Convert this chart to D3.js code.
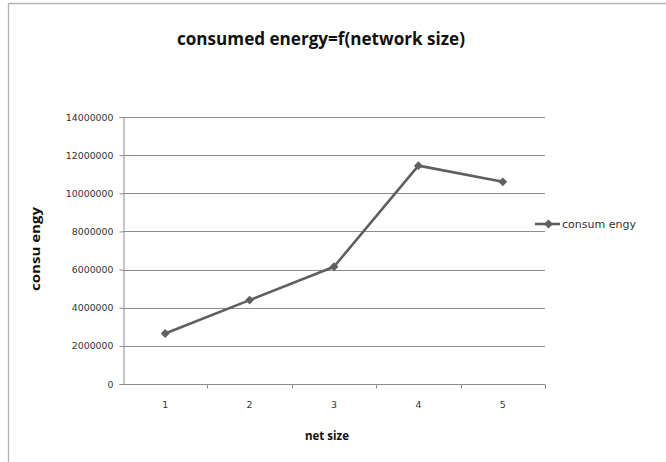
<!DOCTYPE html>
<html>
<head>
<meta charset="utf-8">
<script src="https://cdn.jsdelivr.net/npm/d3@7"></script>
<style>
  html, body { margin: 0; padding: 0; background: #fff; }
  svg { display: block; }
</style>
</head>
<body>
<svg id="chart" width="666" height="462"></svg>
<script>
// Chart data
const categories = ["1", "2", "3", "4", "5"];
const energyValues = [2650000, 4400000, 6150000, 11450000, 10600000];
const yTickValues = [0, 2000000, 4000000, 6000000, 8000000, 10000000, 12000000, 14000000];
const seriesName = "consum engy";
const titleText = "consumed energy=f(network size)";
const xAxisTitle = "net size";
const yAxisTitle = "consu engy";

const svg = d3.select("#chart");
const W = 666, H = 462;
const plot = { left: 123, right: 545, top: 117, bottom: 384 };
const lineColor = "#5f5f5f";
const gridColor = "#8c8c8c";
const tickFont = "'DejaVu Sans', Verdana, sans-serif";
const labelFont = "'Open Sans', 'Noto Sans', sans-serif";

// Outer chart frame (top and left edges)
svg.append("rect").attr("width", W).attr("height", H).attr("fill", "#fff");
svg.append("line").attr("x1", 8.5).attr("x2", W).attr("y1", 3.5).attr("y2", 3.5)
  .attr("stroke", "#b3b3b3").attr("stroke-width", 1.3);
svg.append("line").attr("x1", 8.5).attr("x2", 8.5).attr("y1", 3.5).attr("y2", H)
  .attr("stroke", "#b3b3b3").attr("stroke-width", 1.3);

// Scales
const x = d3.scaleBand().domain(categories).range([plot.left, plot.right]).padding(0);
const y = d3.scaleLinear().domain([0, 14000000]).range([plot.bottom, plot.top]);

// Horizontal gridlines
svg.append("g").selectAll("line").data(yTickValues.filter(v => v > 0)).join("line")
  .attr("x1", plot.left).attr("x2", plot.right)
  .attr("y1", d => Math.round(y(d)) + 0.5).attr("y2", d => Math.round(y(d)) + 0.5)
  .attr("stroke", gridColor).attr("stroke-width", 1);

// Y axis
const yAxis = svg.append("g").attr("transform", `translate(${plot.left + 0.5},0)`)
  .call(d3.axisLeft(y).tickValues(yTickValues).tickSize(4).tickPadding(6).tickFormat(d3.format("d")));
yAxis.select(".domain").attr("stroke", gridColor);
yAxis.selectAll(".tick line").attr("stroke", gridColor);
yAxis.selectAll(".tick text").attr("font-family", tickFont).attr("font-size", "9.4px").attr("fill", "#333");

// X axis (ticks at category boundaries, labels centred in each band)
const xAxisG = svg.append("g").attr("transform", `translate(0,${plot.bottom + 0.5})`);
xAxisG.append("line").attr("x1", plot.left).attr("x2", plot.right).attr("stroke", gridColor);
const boundaries = categories.map(c => x(c) + x.bandwidth());
xAxisG.selectAll("line.tk").data(boundaries).join("line").attr("class", "tk")
  .attr("x1", d => Math.round(d) + 0.5).attr("x2", d => Math.round(d) + 0.5)
  .attr("y1", 0).attr("y2", 4).attr("stroke", gridColor);
xAxisG.selectAll("text").data(categories).join("text")
  .attr("x", d => x(d) + x.bandwidth() / 2).attr("y", 23)
  .attr("text-anchor", "middle").attr("font-family", tickFont).attr("font-size", "9.4px")
  .attr("fill", "#333").text(d => d);

// Series line
const line = d3.line().x((d, i) => x(categories[i]) + x.bandwidth() / 2).y(d => y(d));
svg.append("path").datum(energyValues).attr("d", line)
  .attr("fill", "none").attr("stroke", lineColor).attr("stroke-width", 2.6)
  .attr("stroke-linejoin", "round");

// Diamond markers
const diamond = d3.symbol().type(d3.symbolDiamond2).size(50);
svg.append("g").selectAll("path").data(energyValues).join("path")
  .attr("d", diamond)
  .attr("transform", (d, i) => `translate(${x(categories[i]) + x.bandwidth() / 2},${y(d)})`)
  .attr("fill", lineColor);

// Legend
const lg = svg.append("g").attr("transform", "translate(535,224)");
lg.append("line").attr("x1", 0).attr("x2", 25).attr("y1", 0).attr("y2", 0)
  .attr("stroke", lineColor).attr("stroke-width", 2.6);
lg.append("path").attr("d", diamond).attr("transform", "translate(13.5,0)").attr("fill", lineColor);
lg.append("text").attr("x", 27).attr("y", 4).attr("font-family", tickFont)
  .attr("font-size", "11px").attr("fill", "#333").text(seriesName);

// Title
svg.append("text").attr("x", 321).attr("y", 45).attr("text-anchor", "middle")
  .attr("font-family", labelFont).attr("font-weight", "bold").attr("font-size", "17px")
  .attr("fill", "#111").attr("textLength", 288).attr("lengthAdjust", "spacingAndGlyphs")
  .text(titleText);

// Axis titles
svg.append("text").attr("x", 327).attr("y", 440).attr("text-anchor", "middle")
  .attr("font-family", labelFont).attr("font-weight", "bold").attr("font-size", "11.5px")
  .attr("fill", "#111").attr("textLength", 44).attr("lengthAdjust", "spacingAndGlyphs")
  .text(xAxisTitle);
svg.append("text").attr("transform", "translate(40,249) rotate(-90)").attr("text-anchor", "middle")
  .attr("font-family", labelFont).attr("font-weight", "bold").attr("font-size", "12.5px")
  .attr("fill", "#111").attr("textLength", 84).attr("lengthAdjust", "spacingAndGlyphs")
  .text(yAxisTitle);
</script>
</body>
</html>
